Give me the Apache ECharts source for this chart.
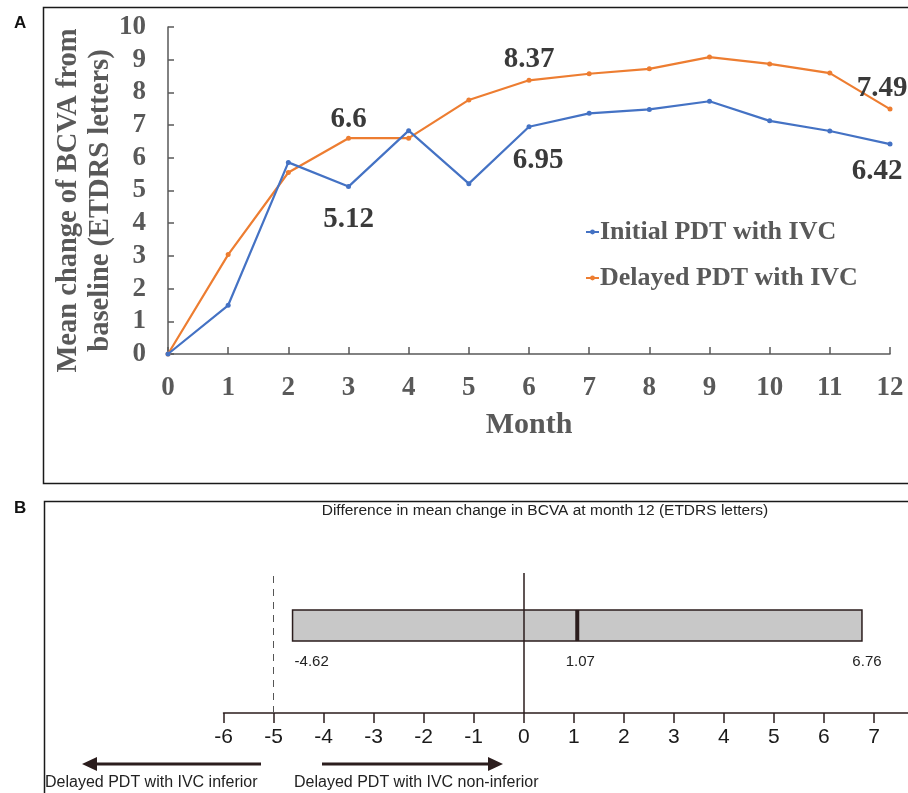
<!DOCTYPE html>
<html>
<head>
<meta charset="utf-8">
<script src="https://cdn.jsdelivr.net/npm/echarts@6/dist/echarts.min.js"></script>
<style>
  html, body { margin: 0; padding: 0; background: #fff; }
  #chart { width: 908px; height: 793px; }
</style>
</head>
<body>
<div id="chart"></div>
<script>
// panel A data
const months = ["0", "1", "2", "3", "4", "5", "6", "7", "8", "9", "10", "11", "12"];
const initialPDT = [0, 1.49, 5.86, 5.12, 6.83, 5.21, 6.95, 7.36, 7.48, 7.73, 7.13, 6.82, 6.42];
const delayedPDT = [0, 3.04, 5.55, 6.6, 6.6, 7.77, 8.37, 8.57, 8.72, 9.08, 8.87, 8.59, 7.49];
const labelledMonths = [3, 6, 12];
const yTicks = [0, 1, 2, 3, 4, 5, 6, 7, 8, 9, 10];

// panel B data
const diffTicks = [-6, -5, -4, -3, -2, -1, 0, 1, 2, 3, 4, 5, 6, 7];
const ciLow = -4.62;
const ciMean = 1.07;
const ciHigh = 6.76;
const nonInferiorMargin = -5;

const serif = "Liberation Serif, Times New Roman, serif";
const narrow = "Liberation Sans Narrow, Arial Narrow, Liberation Sans, sans-serif";
const greyText = "#595959";
const darkLine = "#2b1d1d";

const chart = echarts.init(document.getElementById("chart"));

// label tweaks for the annotated months (x offset, distance)
const initialLabelOffset = { 3: [0, 16], 6: [9, 17], 12: [-13, 10] };
const delayedLabelOffset = { 3: [0, 2], 6: [0, 4], 12: [-8, 4] };

function lineData(values, offsets, position) {
  return values.map((v, i) => {
    if (labelledMonths.indexOf(i) < 0) return v;
    const o = offsets[i];
    return {
      value: v,
      label: { show: true, position: position, offset: [o[0], 0], distance: o[1] }
    };
  });
}

chart.setOption({
  animation: false,
  graphic: [
    { type: "rect", shape: { x: 43.5, y: 7.5, width: 900, height: 476 }, style: { fill: "none", stroke: "#1a1a1a", lineWidth: 1.5 } },
    { type: "rect", shape: { x: 44.5, y: 501.5, width: 900, height: 400 }, style: { fill: "none", stroke: "#1a1a1a", lineWidth: 1.5 } },
    { type: "text", left: 14, top: 15, style: { text: "A", font: "bold 17px Liberation Sans, Arial, sans-serif", fill: "#111" } },
    { type: "text", left: 14, top: 500, style: { text: "B", font: "bold 17px Liberation Sans, Arial, sans-serif", fill: "#111" } },
    {
      type: "text", x: 545, y: 511,
      style: { text: "Difference in mean change in BCVA at month 12 (ETDRS letters)", font: "15.5px " + narrow, fill: "#222", align: "center", verticalAlign: "middle" }
    },
    // arrows
    { type: "line", shape: { x1: 261, y1: 764, x2: 96, y2: 764 }, style: { stroke: darkLine, lineWidth: 3 } },
    { type: "polygon", shape: { points: [[82, 764], [97, 757], [97, 771]] }, style: { fill: darkLine } },
    { type: "line", shape: { x1: 322, y1: 764, x2: 489, y2: 764 }, style: { stroke: darkLine, lineWidth: 3 } },
    { type: "polygon", shape: { points: [[503, 764], [488, 757], [488, 771]] }, style: { fill: darkLine } },
    { type: "text", left: 45, top: 775, style: { text: "Delayed PDT with IVC inferior", font: "16px " + narrow, fill: "#222" } },
    { type: "text", left: 294, top: 775, style: { text: "Delayed PDT with IVC non-inferior", font: "16px " + narrow, fill: "#222" } }
  ],
  legend: {
    orient: "vertical",
    left: 580,
    top: 211,
    itemWidth: 13,
    itemHeight: 6,
    itemGap: 14,
    data: ["Initial PDT with IVC", "Delayed PDT with IVC"],
    textStyle: { fontFamily: serif, fontWeight: "bold", fontSize: 26, color: greyText, lineHeight: 32, padding: [0, 0, 0, -4] }
  },
  grid: [
    { left: 168, right: 18, top: 27, bottom: 439 },
    { left: 223.5, right: 0, top: 573, bottom: 80 }
  ],
  xAxis: [
    {
      type: "category",
      gridIndex: 0,
      data: months,
      boundaryGap: false,
      axisLine: { lineStyle: { color: greyText, width: 1.5 } },
      axisTick: { inside: true, length: 7, lineStyle: { color: greyText, width: 1.5 } },
      axisLabel: { margin: 21, fontFamily: serif, fontWeight: "bold", fontSize: 27, color: greyText },
      name: "Month",
      nameLocation: "middle",
      nameGap: 56,
      nameTextStyle: { fontFamily: serif, fontWeight: "bold", fontSize: 30, color: greyText }
    },
    {
      type: "value",
      gridIndex: 1,
      min: -6,
      max: 7.68,
      splitLine: { show: false },
      axisLine: { onZero: false, lineStyle: { color: darkLine, width: 1.5 } },
      axisTick: { customValues: diffTicks, length: 10, lineStyle: { color: darkLine, width: 1.5 } },
      axisLabel: { customValues: diffTicks, margin: 14, fontFamily: narrow, fontSize: 21, color: "#1a1a1a" }
    }
  ],
  yAxis: [
    {
      type: "value",
      gridIndex: 0,
      min: 0,
      max: 10,
      interval: 1,
      splitLine: { show: false },
      axisLine: { show: true, lineStyle: { color: greyText, width: 1.5 } },
      axisTick: { show: true, inside: true, length: 6, lineStyle: { color: greyText, width: 1.5 } },
      axisLabel: { customValues: yTicks, margin: 22, fontFamily: serif, fontWeight: "bold", fontSize: 27, color: greyText },
      name: "Mean change of BCVA from\nbaseline (ETDRS letters)",
      nameLocation: "middle",
      nameGap: 51,
      nameMoveOverlap: false,
      nameTextStyle: { fontFamily: serif, fontWeight: "bold", fontSize: 28.5, color: greyText, lineHeight: 32, padding: [0, 20, 0, 0] }
    },
    { type: "value", gridIndex: 1, min: 0, max: 1, show: false }
  ],
  series: [
    {
      name: "Initial PDT with IVC",
      type: "line",
      xAxisIndex: 0,
      yAxisIndex: 0,
      data: lineData(initialPDT, initialLabelOffset, "bottom"),
      color: "#4472c4",
      symbol: "circle",
      symbolSize: 5,
      lineStyle: { width: 2.2 },
      label: { show: false, fontFamily: serif, fontWeight: "bold", fontSize: 29, color: "#3a3a3a" },
      z: 3
    },
    {
      name: "Delayed PDT with IVC",
      type: "line",
      xAxisIndex: 0,
      yAxisIndex: 0,
      data: lineData(delayedPDT, delayedLabelOffset, "top"),
      color: "#ed7d31",
      symbol: "circle",
      symbolSize: 5,
      lineStyle: { width: 2.2 },
      label: { show: false, fontFamily: serif, fontWeight: "bold", fontSize: 29, color: "#3a3a3a" },
      z: 2
    },
    {
      type: "custom",
      xAxisIndex: 1,
      yAxisIndex: 1,
      data: [[ciLow, ciMean, ciHigh]],
      encode: { x: [0, 1, 2] },
      renderItem: function (params, api) {
        const top = 0.736, bottom = 0.514, textY = 0.364;
        const p0 = api.coord([api.value(0), top]);
        const p2 = api.coord([api.value(2), bottom]);
        const pm = api.coord([api.value(1), top]);
        const pmb = api.coord([api.value(1), bottom]);
        const t0 = api.coord([api.value(0), textY]);
        const t1 = api.coord([api.value(1), textY]);
        const t2 = api.coord([api.value(2), textY]);
        const font = "15px " + narrow;
        return {
          type: "group",
          children: [
            { type: "rect", shape: { x: p0[0], y: p0[1], width: p2[0] - p0[0], height: p2[1] - p0[1] }, style: { fill: "#c8c8c8", stroke: darkLine, lineWidth: 1.5 } },
            { type: "line", shape: { x1: pm[0], y1: pm[1], x2: pmb[0], y2: pmb[1] }, style: { stroke: darkLine, lineWidth: 4 } },
            { type: "text", x: t0[0] + 2, y: t0[1], style: { text: String(api.value(0)), font: font, fill: "#222", align: "left", verticalAlign: "middle" } },
            { type: "text", x: t1[0] + 3, y: t1[1], style: { text: String(api.value(1)), font: font, fill: "#222", align: "center", verticalAlign: "middle" } },
            { type: "text", x: t2[0] + 5, y: t2[1], style: { text: String(api.value(2)), font: font, fill: "#222", align: "center", verticalAlign: "middle" } }
          ]
        };
      },
      markLine: {
        silent: true,
        symbol: "none",
        label: { show: false },
        data: [
          { xAxis: 0, lineStyle: { color: darkLine, width: 1.5, type: "solid" } },
          { xAxis: nonInferiorMargin, lineStyle: { color: "#555", width: 1, type: [7, 6] } }
        ]
      },
      z: 1
    }
  ]
});
</script>
</body>
</html>
